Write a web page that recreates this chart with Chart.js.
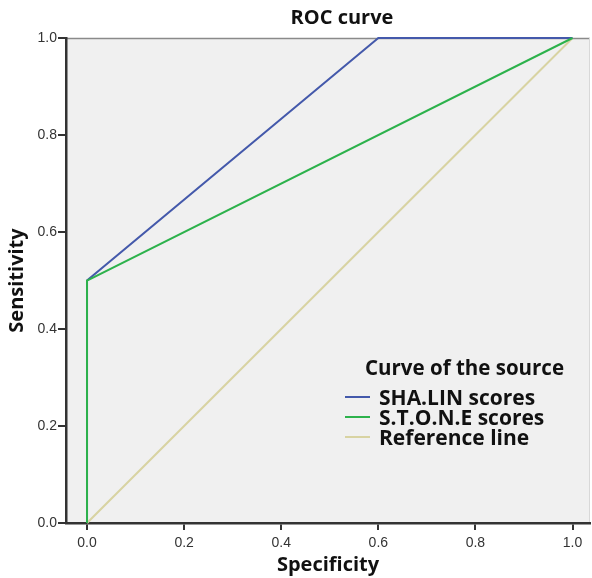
<!DOCTYPE html>
<html>
<head>
<meta charset="utf-8">
<script src="https://cdn.jsdelivr.net/npm/chart.js@4"></script>
<style>
  html, body { margin: 0; padding: 0; background: #fff; }
  #wrap { width: 592px; height: 578px; position: relative; }
</style>
</head>
<body>
<div id="wrap"><canvas id="c" width="592" height="578"></canvas></div>
<script>
// ---- data ----
const chartTitle = "ROC curve";
const xTitle = "Specificity";
const yTitle = "Sensitivity";
const legendTitle = "Curve of the source";
const seriesNames = ["SHA.LIN scores", "S.T.O.N.E scores", "Reference line"];
const shalinX = [0.0, 0.0, 0.6, 1.0];
const shalinY = [0.0, 0.5, 1.0, 1.0];
const stoneX = [0.0, 0.0, 1.0];
const stoneY = [0.0, 0.5, 1.0];
const refX = [0.0, 1.0];
const refY = [0.0, 1.0];
const xTickValues = [0.0, 0.2, 0.4, 0.6, 0.8, 1.0];
const yTickValues = [0.0, 0.2, 0.4, 0.6, 0.8, 1.0];

const colors = ["#4459ab", "#2db24c", "#d8d3a2"];
const toPts = (xs, ys) => xs.map((x, i) => ({ x: x, y: ys[i] }));

const BOLD = '"Open Sans", "Noto Sans", sans-serif';
const REG = '"Liberation Sans", Arial, sans-serif';

const areaPlugin = {
  id: 'area',
  beforeDraw(chart) {
    const { ctx, chartArea: a } = chart;
    ctx.save();
    ctx.fillStyle = '#f0f0f0';
    ctx.fillRect(a.left, a.top, a.right - a.left, a.bottom - a.top);
    ctx.strokeStyle = '#8a8a8a';
    ctx.lineWidth = 1.5;
    ctx.beginPath();
    ctx.moveTo(a.left, a.top + 0.5);
    ctx.lineTo(a.right, a.top + 0.5);
    ctx.stroke();
    ctx.strokeStyle = '#d8d8d8';
    ctx.lineWidth = 1;
    ctx.beginPath();
    ctx.moveTo(a.right - 0.5, a.top);
    ctx.lineTo(a.right - 0.5, a.bottom);
    ctx.stroke();
    ctx.restore();
  },
  afterDraw(chart) {
    const { ctx } = chart;
    ctx.save();
    // title
    ctx.fillStyle = '#111';
    ctx.font = 'bold 20px ' + BOLD;
    ctx.textAlign = 'center';
    ctx.textBaseline = 'middle';
    ctx.fillText(chartTitle, 342, 18);
    // legend
    ctx.textAlign = 'left';
    ctx.font = 'bold 20.5px ' + BOLD;
    ctx.fillText(legendTitle, 365, 369);
    chart.data.datasets.forEach((ds, i) => {
      const y = 399 + i * 20;
      ctx.strokeStyle = ds.borderColor;
      ctx.lineWidth = 2;
      ctx.beginPath();
      ctx.moveTo(345, y - 2);
      ctx.lineTo(370, y - 2);
      ctx.stroke();
      ctx.fillStyle = '#111';
      ctx.font = 'bold 21px ' + BOLD;
      ctx.fillText(ds.label, 379, y);
    });
    ctx.restore();
  }
};

new Chart(document.getElementById('c'), {
  type: 'scatter',
  data: {
    datasets: [
      { label: seriesNames[0], data: toPts(shalinX, shalinY), borderColor: colors[0], order: 1 },
      { label: seriesNames[1], data: toPts(stoneX, stoneY), borderColor: colors[1], order: 0 },
      { label: seriesNames[2], data: toPts(refX, refY), borderColor: colors[2], order: 2 }
    ].map(d => Object.assign(d, { showLine: true, pointRadius: 0, borderWidth: 2, fill: false, tension: 0, clip: 4 }))
  },
  options: {
    responsive: false,
    animation: false,
    events: [],
    layout: { padding: { top: 38, right: 2, left: 0, bottom: 0 } },
    plugins: { legend: { display: false }, title: { display: false }, tooltip: { enabled: false } },
    scales: {
      x: {
        type: 'linear',
        min: -0.0433,
        max: 1.036,
        afterBuildTicks: s => { s.ticks = xTickValues.map(v => ({ value: v })); },
        afterFit: s => { s.height = 55; },
        ticks: { callback: v => v.toFixed(1), color: '#333', font: { family: REG, size: 14 }, padding: 5, maxRotation: 0, autoSkip: false },
        grid: { drawOnChartArea: false, drawTicks: true, tickLength: 7, color: '#333', lineWidth: 2 },
        border: { display: true, color: '#333', width: 2.5 },
        title: { display: true, text: xTitle, color: '#111', font: { family: BOLD, size: 20, weight: 'bold' }, padding: { top: 0, bottom: 1 } }
      },
      y: {
        type: 'linear',
        min: 0,
        max: 1,
        afterBuildTicks: s => { s.ticks = yTickValues.map(v => ({ value: v })); },
        afterFit: s => { s.width = 66; },
        ticks: { callback: v => v.toFixed(1), color: '#333', font: { family: REG, size: 14 }, padding: 1, autoSkip: false },
        grid: { drawOnChartArea: false, drawTicks: true, tickLength: 8, color: '#333', lineWidth: 2 },
        border: { display: true, color: '#333', width: 2.5 },
        title: { display: true, text: yTitle, color: '#111', font: { family: BOLD, size: 20, weight: 'bold' }, padding: { top: 5, bottom: 0 } }
      }
    }
  },
  plugins: [areaPlugin]
});
</script>
</body>
</html>
